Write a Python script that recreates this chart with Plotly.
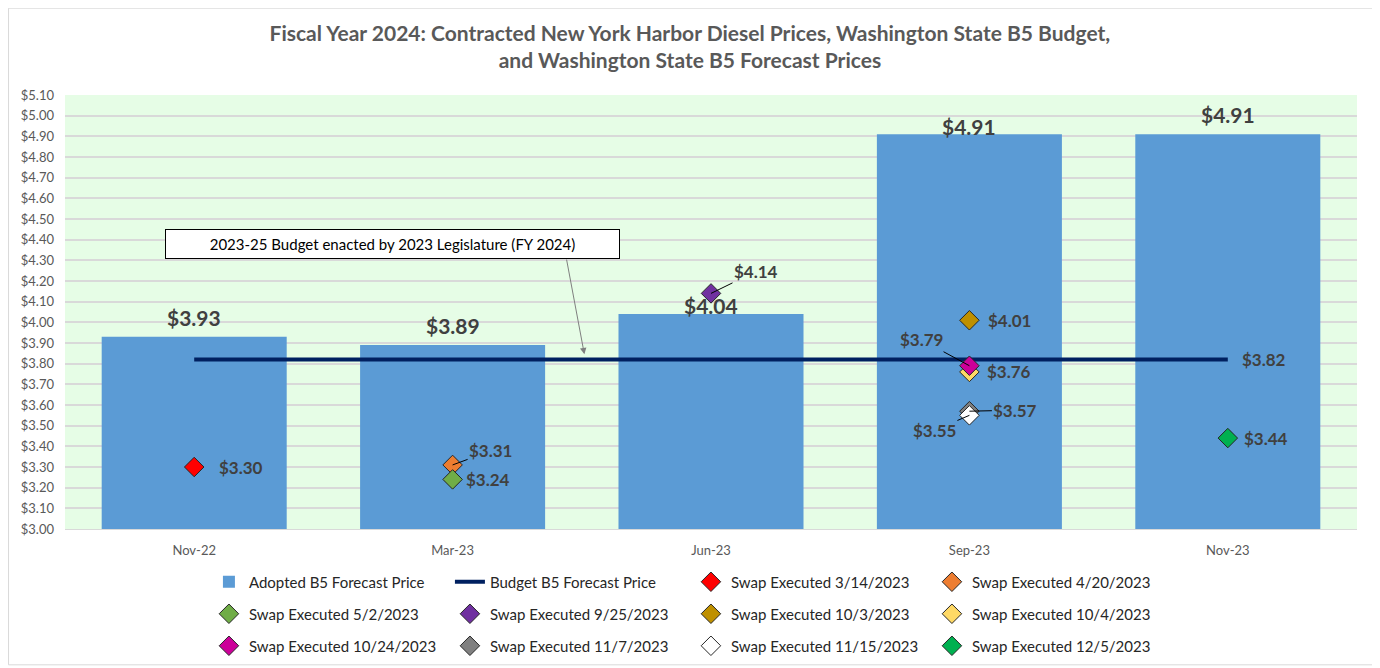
import plotly.graph_objects as go

# ---------------- data ----------------
categories = ["Nov-22", "Mar-23", "Jun-23", "Sep-23", "Nov-23"]
adopted_prices = [3.93, 3.89, 4.04, 4.91, 4.91]
budget_price = [3.82, 3.82, 3.82, 3.82, 3.82]

swap_names = [
    "Swap Executed 3/14/2023", "Swap Executed 4/20/2023", "Swap Executed 5/2/2023",
    "Swap Executed 9/25/2023", "Swap Executed 10/3/2023", "Swap Executed 10/4/2023",
    "Swap Executed 10/24/2023", "Swap Executed 11/7/2023", "Swap Executed 11/15/2023",
    "Swap Executed 12/5/2023",
]
swap_categories = ["Nov-22", "Mar-23", "Mar-23", "Jun-23", "Sep-23", "Sep-23",
                   "Sep-23", "Sep-23", "Sep-23", "Nov-23"]
swap_prices = [3.30, 3.31, 3.24, 4.14, 4.01, 3.76, 3.79, 3.57, 3.55, 3.44]
swap_colors = ["#FF0000", "#ED7D31", "#70AD47", "#7030A0", "#BF9000", "#FFD966",
               "#CC0099", "#808080", "#FFFFFF", "#00B050"]
# label offsets (px) from marker: (dx, dy, leader line?)
swap_label_offsets = [(47, 0, False), (38, -14, True), (35, 0, False), (45, -22, True),
                      (40, 0, False), (40, 0, False), (-48, -26, True), (46, -1, True),
                      (-35, 15, True), (38, 0, False)]
bar_label_shift = [19, 20, 9, 8, 20]

y_ticks = [round(3.0 + 0.1 * i, 2) for i in range(22)]

FONT = "Lato"
GRAY = "#595959"
LABEL = "#404040"

fig = go.Figure()

fig.add_trace(go.Bar(
    x=categories, y=adopted_prices, name="Adopted B5 Forecast Price",
    marker=dict(color="#5B9BD5", line=dict(width=0)), legend="legend",
    hoverinfo="x+y",
))
fig.add_trace(go.Scatter(
    x=categories, y=budget_price, name="Budget B5 Forecast Price", mode="lines",
    line=dict(color="#002060", width=4), legend="legend",
))

legend_of = ["legend", "legend", "legend2", "legend2", "legend2", "legend2",
             "legend3", "legend3", "legend3", "legend3"]
for i in range(len(swap_names)):
    fig.add_trace(go.Scatter(
        x=[swap_categories[i]], y=[swap_prices[i]], name=swap_names[i], mode="markers",
        marker=dict(symbol="diamond", size=15, color=swap_colors[i],
                    line=dict(color="#262626", width=1)),
        legend=legend_of[i],
    ))

annotations = []
# bar value labels
for c, v, s in zip(categories, adopted_prices, bar_label_shift):
    annotations.append(dict(x=c, y=v, text=f"<b>${v:.2f}</b>", showarrow=False,
                            yanchor="middle", yshift=s,
                            font=dict(family=FONT, size=21, color=LABEL)))
# budget label
annotations.append(dict(x=categories[-1], y=budget_price[-1], text=f"<b>${budget_price[-1]:.2f}</b>",
                        showarrow=False, xshift=36, font=dict(family=FONT, size=17, color=LABEL)))
# swap labels
for c, v, (dx, dy, lead) in zip(swap_categories, swap_prices, swap_label_offsets):
    txt = f"<b>${v:.2f}</b>"
    if lead:
        annotations.append(dict(x=c, y=v, text=txt, showarrow=True, arrowhead=0,
                                arrowwidth=1, arrowcolor="#000000", ax=dx, ay=dy,
                                standoff=0, font=dict(family=FONT, size=17, color=LABEL)))
    else:
        annotations.append(dict(x=c, y=v, text=txt, showarrow=False, xshift=dx, yshift=-dy,
                                font=dict(family=FONT, size=17, color=LABEL)))

# callout box and arrow
annotations.append(dict(x=0.766, y=4.379, xref="x", yref="y",
                        text="2023-25 Budget enacted by 2023 Legislature (FY 2024)",
                        showarrow=False, bordercolor="#000000", borderwidth=1, borderpad=5,
                        bgcolor="#FFFFFF", width=443,
                        font=dict(family=FONT, size=15, color="#000000")))
annotations.append(dict(x=1.51, y=3.845, xref="x", yref="y", ax=1.44, ay=4.311,
                        axref="x", ayref="y", text="", showarrow=True, arrowhead=2,
                        arrowsize=1.3, arrowwidth=1, arrowcolor="#7F7F7F"))

legend_common = dict(orientation="h", xanchor="left", yanchor="middle", yref="container",
                     font=dict(family=FONT, size=15, color="#262626"),
                     entrywidth=196, bgcolor="rgba(0,0,0,0)", itemwidth=30)

fig.update_layout(
    width=1372, height=660,
    margin=dict(l=57, r=23, t=87, b=139),
    paper_bgcolor="#FFFFFF", plot_bgcolor="#E6FDE6",
    title=dict(text="<b>Fiscal Year 2024: Contracted New York Harbor Diesel Prices, Washington State B5 Budget,<br>and Washington State B5 Forecast Prices</b>",
               x=0.497, xanchor="center", y=0.950, yanchor="top",
               font=dict(family=FONT, size=21, color=GRAY)),
    bargap=0.284,
    xaxis=dict(type="category", categoryorder="array", categoryarray=categories,
               showgrid=False, showline=True, linecolor="#D9D9D9", linewidth=1,
               ticks="", ticklabelstandoff=9, automargin=False,
               tickfont=dict(family=FONT, size=13, color=GRAY)),
    yaxis=dict(range=[3.0, 5.1], tickvals=y_ticks, ticktext=[f"${t:.2f}" for t in y_ticks],
               showgrid=True, gridcolor="#D9D9D9", gridwidth=2, zeroline=False,
               showline=False, ticks="", ticklabelstandoff=10, automargin=False,
               tickfont=dict(family=FONT, size=13, color=GRAY)),
    legend=dict(**legend_common, x=0.1114, y=0.1303),
    legend2=dict(**legend_common, x=0.1114, y=0.0818),
    legend3=dict(**legend_common, x=0.1114, y=0.0333),
    annotations=annotations,
    shapes=[dict(type="rect", xref="paper", yref="paper", x0=-0.0437, x1=1.0123,
                 y0=-0.313, y1=1.2, line=dict(color="#D9D9D9", width=1), layer="below")],
    showlegend=True,
)

fig.write_html("out.html")
